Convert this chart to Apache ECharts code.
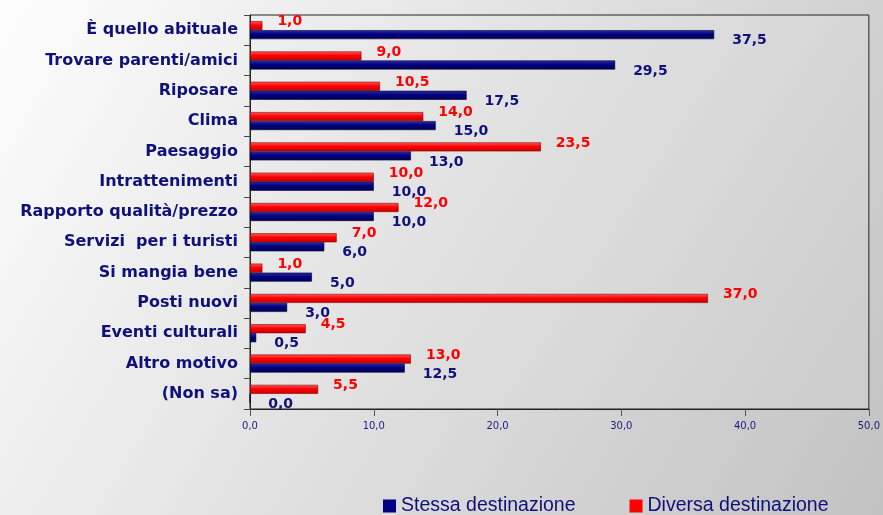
<!DOCTYPE html>
<html>
<head>
<meta charset="utf-8">
<script src="https://cdn.jsdelivr.net/npm/echarts@6/dist/echarts.min.js"></script>
<style>
  html, body { margin: 0; padding: 0; }
  #chart { width: 883px; height: 515px; }
</style>
</head>
<body>
<div id="chart"></div>
<script>
// motivi della scelta
var categories = ['È quello abituale', 'Trovare parenti/amici', 'Riposare', 'Clima', 'Paesaggio',
    'Intrattenimenti', 'Rapporto qualità/prezzo', 'Servizi  per i turisti', 'Si mangia bene',
    'Posti nuovi', 'Eventi culturali', 'Altro motivo', '(Non sa)'];
var stessa = [37.5, 29.5, 17.5, 15.0, 13.0, 10.0, 10.0, 6.0, 5.0, 3.0, 0.5, 12.5, 0.0];
var diversa = [1.0, 9.0, 10.5, 14.0, 23.5, 10.0, 12.0, 7.0, 1.0, 37.0, 4.5, 13.0, 5.5];

function virgola(v) {
    return v.toFixed(1).replace('.', ',');
}

var myChart = echarts.init(document.getElementById('chart'));
var option = {
    backgroundColor: new echarts.graphic.LinearGradient(0, 0, 1, 1, [
        { offset: 0, color: '#fdfdfd' },
        { offset: 1, color: '#c2c2c2' }
    ]),
    animation: false,
    legend: {
        data: [
            { name: 'Stessa destinazione', itemStyle: { color: '#000080' } },
            { name: 'Diversa destinazione', itemStyle: { color: '#ff0000' } }
        ],
        top: 491,
        left: 378,
        itemWidth: 13,
        itemHeight: 13,
        itemGap: 54,
        icon: 'rect',
        itemStyle: { borderWidth: 0 },
        textStyle: { fontFamily: 'Liberation Sans', fontSize: 19.5, color: '#10107a' }
    },
    grid: {
        left: 250,
        right: 12,
        top: 15,
        bottom: 106,
        show: true,
        backgroundColor: new echarts.graphic.LinearGradient(0, 0, 1, 1, [
            { offset: 0, color: '#efefef' },
            { offset: 1, color: '#cbcbcb' }
        ]),
        borderColor: '#222',
        borderWidth: 1
    },
    xAxis: {
        type: 'value',
        min: 0,
        max: 50,
        interval: 10,
        axisLine: { show: true, lineStyle: { color: '#222' } },
        axisTick: { show: true, length: 7, lineStyle: { color: '#555' } },
        splitLine: { show: false },
        axisLabel: {
            margin: 12,
            fontFamily: 'DejaVu Sans',
            fontSize: 10,
            color: '#1a1a80',
            formatter: function (v) { return virgola(v); }
        }
    },
    yAxis: {
        type: 'category',
        inverse: true,
        data: categories,
        axisLine: { show: true, lineStyle: { color: '#222' } },
        axisTick: { show: true, length: 6, lineStyle: { color: '#444' } },
        axisLabel: {
            margin: 12,
            fontFamily: 'DejaVu Sans',
            fontWeight: 'bold',
            fontSize: 16,
            color: '#10107a'
        }
    },
    series: [
        {
            name: 'Diversa destinazione',
            type: 'bar',
            data: diversa,
            barWidth: 9,
            barGap: '0%',
            itemStyle: {
                color: new echarts.graphic.LinearGradient(0, 0, 0, 1, [
                    { offset: 0, color: '#ff6060' },
                    { offset: 0.45, color: '#ff0000' },
                    { offset: 1, color: '#c80000' }
                ]),
                borderColor: '#800000',
                borderWidth: 0.6
            },
            label: {
                show: true,
                position: 'right',
                offset: [10, -4],
                fontFamily: 'DejaVu Sans',
                fontWeight: 'bold',
                fontSize: 14,
                color: '#ff0000',
                formatter: function (p) { return virgola(p.value); }
            }
        },
        {
            name: 'Stessa destinazione',
            type: 'bar',
            data: stessa,
            barWidth: 9,
            barGap: '0%',
            itemStyle: {
                color: new echarts.graphic.LinearGradient(0, 0, 0, 1, [
                    { offset: 0, color: '#3030a8' },
                    { offset: 0.45, color: '#000080' },
                    { offset: 1, color: '#000050' }
                ]),
                borderColor: '#000030',
                borderWidth: 0.6
            },
            label: {
                show: true,
                position: 'right',
                offset: [13, 6],
                fontFamily: 'DejaVu Sans',
                fontWeight: 'bold',
                fontSize: 14,
                color: '#10107a',
                formatter: function (p) { return virgola(p.value); }
            }
        }
    ]
};
myChart.setOption(option);
window.addEventListener('resize', function () {
    myChart.resize();
});
</script>
</body>
</html>
